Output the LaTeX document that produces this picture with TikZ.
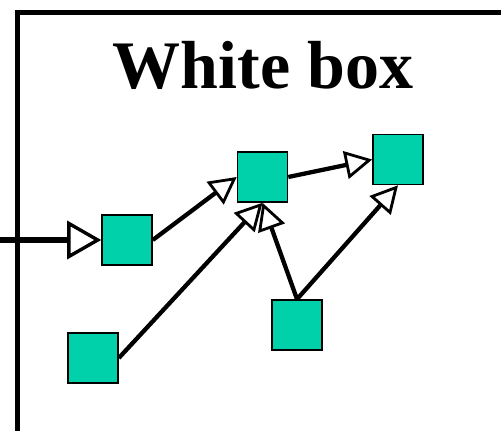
\documentclass[tikz,border=0pt]{standalone}
\usepackage{fontspec}
\setmainfont{Liberation Serif}
\usetikzlibrary{arrows.meta}
\definecolor{boxteal}{RGB}{0,209,170}
\begin{document}
\begin{tikzpicture}[x=1pt,y=-1pt,
  sq/.style={draw=black,line width=1.6pt,fill=boxteal,minimum size=50pt,inner sep=0pt},
  conn/.style={line width=4.3pt,-{Triangle[length=27pt,width=28pt,fill=white,line width=2.8pt]},shorten >=0pt},
  inconn/.style={line width=6pt,-{Triangle[length=34pt,width=38pt,fill=white,line width=3.4pt]},shorten >=0pt}]
\useasboundingbox (0,0) rectangle (501,431);
\draw[line width=5pt] (17,440) -- (17,12.5) -- (510,12.5);
\node[font=\bfseries\fontsize{68}{80}\selectfont,anchor=base] (title) at (263,88) {White box};
\node[sq] (A) at (127,240) {};
\node[sq] (B) at (262.5,177) {};
\node[sq] (C) at (398,159.5) {};
\node[sq] (D) at (93,358) {};
\node[sq] (E) at (297,325) {};
\coordinate (in) at (0,240);
\draw[inconn] (in) -- (A.west);
\draw[conn] (A.east) -- (B.west);
\draw[conn] (B.east) -- (C.west);
\draw[conn] (D.east) -- (B.south);
\draw[conn] (E.north) -- (B.south);
\draw[conn] (E.north) -- (C.south);
\end{tikzpicture}
\end{document}
